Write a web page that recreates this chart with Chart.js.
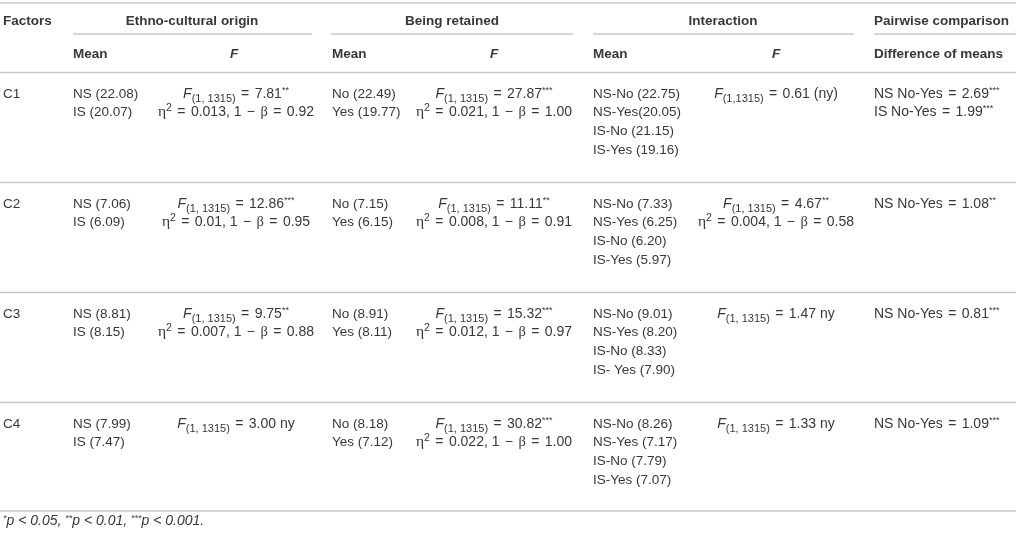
<!DOCTYPE html>
<html>
<head>
<meta charset="utf-8">
<script src="https://cdn.jsdelivr.net/npm/chart.js@4.4.1/dist/chart.umd.min.js"></script>
<style>
  html, body { margin: 0; padding: 0; background: #fff; }
  canvas { display: block; }
</style>
</head>
<body>
<canvas id="tableChart" width="1016" height="535"></canvas>
<script>
// table content
const factors = ['C1', 'C2', 'C3', 'C4'];

const ethnoMeans = [
  ['NS (22.08)', 'IS (20.07)'],
  ['NS (7.06)', 'IS (6.09)'],
  ['NS (8.81)', 'IS (8.15)'],
  ['NS (7.99)', 'IS (7.47)']
];
const ethnoF = ['7.81', '12.86', '9.75', '3.00'];
const ethnoSig = ['**', '***', '**', ''];
const ethnoNote = ['', '', '', ' ny'];
const ethnoEta = ['0.013', '0.01', '0.007', null];
const ethnoPower = ['0.92', '0.95', '0.88', null];

const retainedMeans = [
  ['No (22.49)', 'Yes (19.77)'],
  ['No (7.15)', 'Yes (6.15)'],
  ['No (8.91)', 'Yes (8.11)'],
  ['No (8.18)', 'Yes (7.12)']
];
const retainedF = ['27.87', '11.11', '15.32', '30.82'];
const retainedSig = ['***', '**', '***', '***'];
const retainedEta = ['0.021', '0.008', '0.012', '0.022'];
const retainedPower = ['1.00', '0.91', '0.97', '1.00'];

const interMeans = [
  ['NS-No (22.75)', 'NS-Yes(20.05)', 'IS-No (21.15)', 'IS-Yes (19.16)'],
  ['NS-No (7.33)', 'NS-Yes (6.25)', 'IS-No (6.20)', 'IS-Yes (5.97)'],
  ['NS-No (9.01)', 'NS-Yes (8.20)', 'IS-No (8.33)', 'IS- Yes (7.90)'],
  ['NS-No (8.26)', 'NS-Yes (7.17)', 'IS-No (7.79)', 'IS-Yes (7.07)']
];
const interDf = ['(1,1315)', '(1, 1315)', '(1, 1315)', '(1, 1315)'];
const interF = ['0.61', '4.67', '1.47', '1.33'];
const interSig = ['', '**', '', ''];
const interNote = [' (ny)', '', ' ny', ' ny'];
const interEta = [null, '0.004', null, null];
const interPower = [null, '0.58', null, null];

const pairGroups = [['NS', 'IS'], ['NS'], ['NS'], ['NS']];
const pairDiff = [['2.69', '1.99'], ['1.08'], ['0.81'], ['1.09']];
const pairSig = [['***', '***'], ['**'], ['***'], ['***']];

const W = 1016, H = 535;
const SANS = '"Liberation Sans", Arial, sans-serif';
const SERIF = '"Liberation Serif", "DejaVu Serif", serif';
const TEXT = '#383838';
const RULE = '#c9c9c9';

const fonts = {
  n:   { font: '13.5px ' + SANS, dy: 0 },
  m:   { font: '14px ' + SANS, dy: 0 },
  op:  { font: '14px ' + SANS, dy: 0, pad: 1.5 },
  b:   { font: 'bold 13.5px ' + SANS, dy: 0 },
  i:   { font: 'italic 14px ' + SANS, dy: 0 },
  bi:  { font: 'italic bold 13.5px ' + SANS, dy: 0 },
  sub: { font: '11px ' + SANS, dy: 4 },
  sup: { font: '9px ' + SANS, dy: -5 },
  sup2:{ font: '10.5px ' + SANS, dy: -5.5 },
  eta: { font: '15.5px ' + SERIF, dy: 0 },
  beta:{ font: '14.5px ' + SERIF, dy: 0 },
  fi:  { font: 'italic 14px ' + SANS, dy: 0 },
  fsup:{ font: 'italic 9px ' + SANS, dy: -4.5 }
};

// column anchors (table units == px)
const col = { factor: 3, ethMean: 73, ethF: 236, retMean: 332, retF: 494, intMean: 593, intF: 776, pair: 874 };
const blockTop = 72.5, blockH = 110, firstLine = 20, lineH = 18.7;

function rowY(block, i) { return blockTop + blockH * block + firstLine + lineH * i; }

function fSegs(df, val, sig, note) {
  return [
    { t: 'F', s: 'i' }, { t: df, s: 'sub' }, { t: ' ', s: 'm' }, { t: '=', s: 'op' },
    { t: ' ' + val, s: 'm' }, { t: sig, s: 'sup' }, { t: note, s: 'm' }
  ];
}
function etaSegs(eta, power) {
  return [
    { t: 'η', s: 'eta' }, { t: '2', s: 'sup2' }, { t: ' ', s: 'm' }, { t: '=', s: 'op' },
    { t: ' ' + eta + ', 1 ', s: 'm' }, { t: '−', s: 'op' }, { t: ' ', s: 'm' },
    { t: 'β', s: 'beta' }, { t: ' ', s: 'm' }, { t: '=', s: 'op' }, { t: ' ' + power, s: 'm' }
  ];
}

// one invisible anchor point per text cell, placed through the scales
const cells = [];
function addCell(x, y, segs, align) { cells.push({ x: x, y: y, segs: segs, align: align }); }

addCell(col.factor, 20, [{ t: 'Factors', s: 'b' }], 'left');
addCell(192, 20, [{ t: 'Ethno-cultural origin', s: 'b' }], 'center');
addCell(452, 20, [{ t: 'Being retained', s: 'b' }], 'center');
addCell(723, 20, [{ t: 'Interaction', s: 'b' }], 'center');
addCell(col.pair, 20, [{ t: 'Pairwise comparison', s: 'b' }], 'left');
addCell(col.ethMean, 53, [{ t: 'Mean', s: 'b' }], 'left');
addCell(234, 53, [{ t: 'F', s: 'bi' }], 'center');
addCell(col.retMean, 53, [{ t: 'Mean', s: 'b' }], 'left');
addCell(col.retF, 53, [{ t: 'F', s: 'bi' }], 'center');
addCell(col.intMean, 53, [{ t: 'Mean', s: 'b' }], 'left');
addCell(col.intF, 53, [{ t: 'F', s: 'bi' }], 'center');
addCell(col.pair, 53, [{ t: 'Difference of means', s: 'b' }], 'left');

factors.forEach((f, k) => {
  addCell(col.factor, rowY(k, 0), [{ t: f, s: 'n' }], 'left');
  ethnoMeans[k].forEach((m, i) => addCell(col.ethMean, rowY(k, i), [{ t: m, s: 'n' }], 'left'));
  addCell(col.ethF, rowY(k, 0), fSegs('(1, 1315)', ethnoF[k], ethnoSig[k], ethnoNote[k]), 'center');
  if (ethnoEta[k]) addCell(col.ethF, rowY(k, 1), etaSegs(ethnoEta[k], ethnoPower[k]), 'center');
  retainedMeans[k].forEach((m, i) => addCell(col.retMean, rowY(k, i), [{ t: m, s: 'n' }], 'left'));
  addCell(col.retF, rowY(k, 0), fSegs('(1, 1315)', retainedF[k], retainedSig[k], ''), 'center');
  if (retainedEta[k]) addCell(col.retF, rowY(k, 1), etaSegs(retainedEta[k], retainedPower[k]), 'center');
  interMeans[k].forEach((m, i) => addCell(col.intMean, rowY(k, i), [{ t: m, s: 'n' }], 'left'));
  addCell(col.intF, rowY(k, 0), fSegs(interDf[k], interF[k], interSig[k], interNote[k]), 'center');
  if (interEta[k]) addCell(col.intF, rowY(k, 1), etaSegs(interEta[k], interPower[k]), 'center');
  pairGroups[k].forEach((g, i) => addCell(col.pair, rowY(k, i),
    [{ t: g + ' No-Yes ', s: 'm' }, { t: '=', s: 'op' }, { t: ' ' + pairDiff[k][i], s: 'm' }, { t: pairSig[k][i], s: 'sup' }], 'left'));
});

addCell(3, 520, [
  { t: '*', s: 'fsup' }, { t: 'p < 0.05, ', s: 'fi' },
  { t: '**', s: 'fsup' }, { t: 'p < 0.01, ', s: 'fi' },
  { t: '***', s: 'fsup' }, { t: 'p < 0.001.', s: 'fi' }
], 'left');

const fullRules = [3, 72.5, 182.5, 292.5, 402.5, 511];
const groupRules = [[73, 312], [331, 573], [593, 854], [874, 1016]];

const tablePlugin = {
  id: 'tableCells',
  afterDatasetsDraw(chart) {
    const { ctx, scales: { x, y } } = chart;
    ctx.save();
    ctx.strokeStyle = RULE;
    ctx.lineWidth = 1.6;
    fullRules.forEach(v => {
      ctx.beginPath();
      ctx.moveTo(x.getPixelForValue(0), y.getPixelForValue(v));
      ctx.lineTo(x.getPixelForValue(W), y.getPixelForValue(v));
      ctx.stroke();
    });
    groupRules.forEach(r => {
      ctx.beginPath();
      ctx.moveTo(x.getPixelForValue(r[0]), y.getPixelForValue(34));
      ctx.lineTo(x.getPixelForValue(r[1]), y.getPixelForValue(34));
      ctx.stroke();
    });

    ctx.fillStyle = TEXT;
    ctx.textBaseline = 'alphabetic';
    ctx.textAlign = 'left';
    const segW = s => {
      const f = fonts[s.s];
      ctx.font = f.font;
      return ctx.measureText(s.t).width + 2 * (f.pad || 0);
    };
    chart.data.datasets[0].data.forEach(c => {
      let total = 0;
      c.segs.forEach(s => { total += segW(s); });
      let px = x.getPixelForValue(c.x);
      if (c.align === 'center') px -= total / 2;
      const base = y.getPixelForValue(c.y) + 5;
      c.segs.forEach(s => {
        const f = fonts[s.s];
        const w = segW(s);
        ctx.font = f.font;
        ctx.fillText(s.t, px + (f.pad || 0), base + f.dy);
        px += w;
      });
    });
    ctx.restore();
  }
};

new Chart(document.getElementById('tableChart').getContext('2d'), {
  type: 'scatter',
  data: { datasets: [{ data: cells, pointRadius: 0, pointHoverRadius: 0 }] },
  options: {
    responsive: false,
    animation: false,
    events: [],
    layout: { padding: 0 },
    plugins: { legend: { display: false }, tooltip: { enabled: false } },
    scales: {
      x: { type: 'linear', min: 0, max: W, display: false },
      y: { type: 'linear', min: 0, max: H, reverse: true, display: false }
    }
  },
  plugins: [tablePlugin]
});
</script>
</body>
</html>
